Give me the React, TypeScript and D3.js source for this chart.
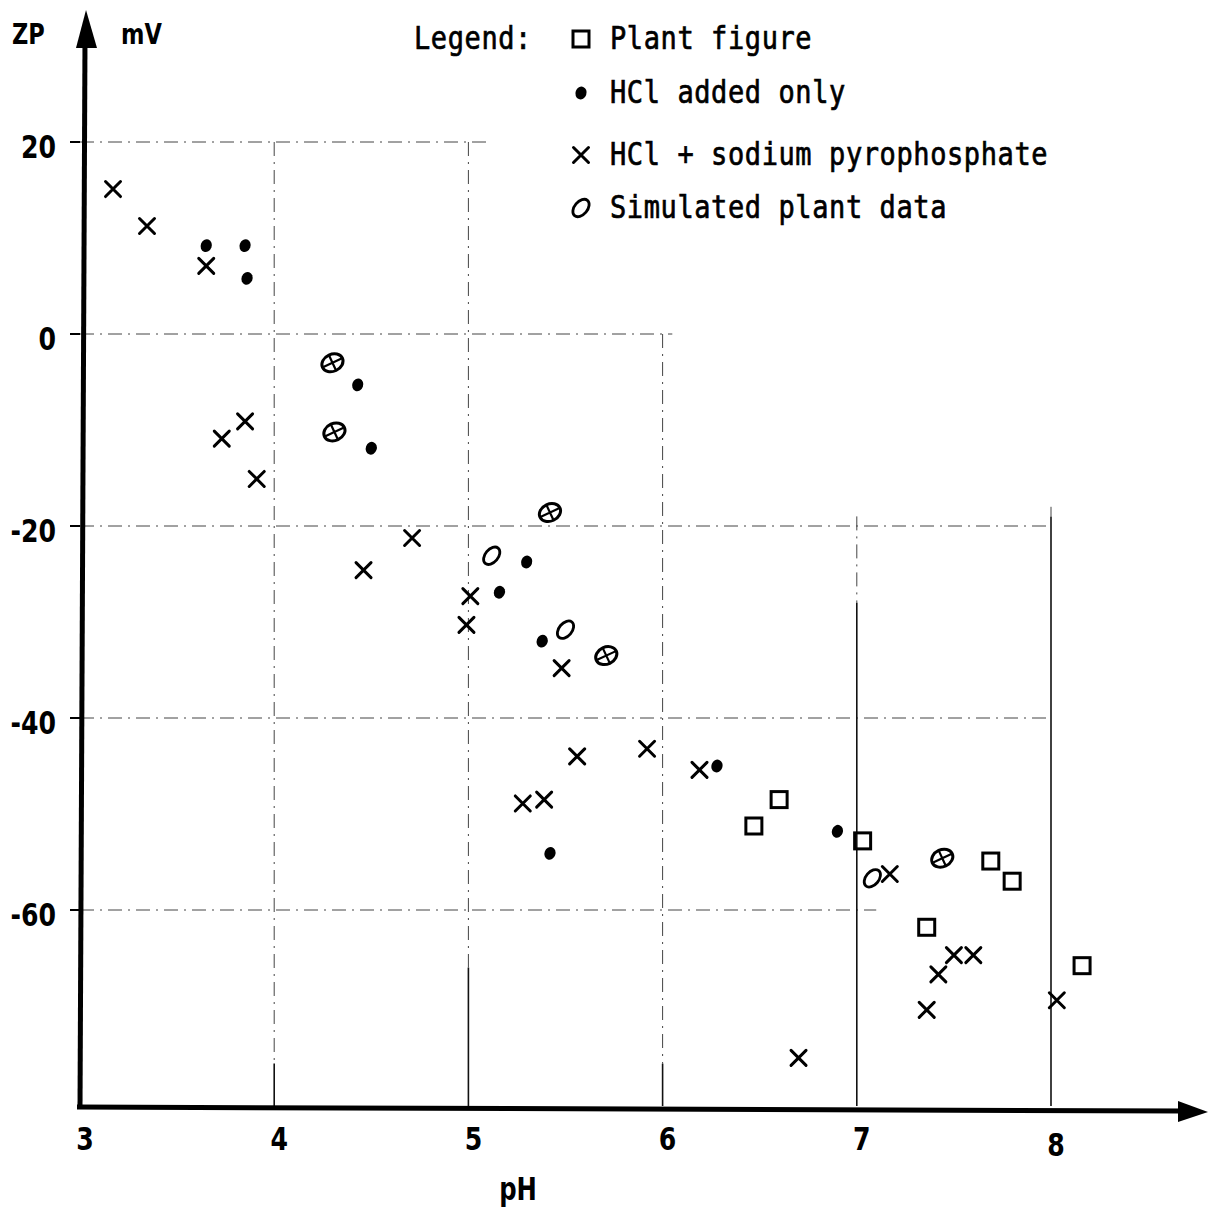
import React, { useEffect, useRef } from 'react';
import * as d3 from 'd3';

const width = 1212;
const height = 1208;

// values: pH vs zeta potential (mV)
const plantPH = [6.60, 6.47, 7.03, 7.69, 7.80, 7.36, 8.16];
const plantMV = [-48.5, -51.25, -52.8, -54.9, -57, -61.8, -65.8];

const hclPH = [3.65, 3.85, 3.86, 4.43, 4.50, 5.30, 5.16, 5.38, 5.42, 6.28, 6.90];
const hclMV = [9.2, 9.2, 5.8, -5.3, -11.9, -23.75, -26.9, -32.0, -54.1, -45.0, -51.8];

const pyroPH = [3.17, 3.345, 3.65, 3.73, 3.85, 3.91, 4.46, 4.71, 5.01, 4.99, 5.48, 5.56, 5.92, 5.28, 5.39, 6.19, 6.70, 7.17, 7.50, 7.60, 7.42, 7.36, 8.03];
const pyroMV = [15.1, 11.25, 7.1, -10.9, -9.1, -15.1, -24.6, -21.25, -27.3, -30.3, -34.8, -44.0, -43.2, -48.9, -48.5, -45.4, -75.4, -56.25, -64.7, -64.7, -66.7, -70.4, -69.4];

const simPH = [5.12, 5.50, 7.08];
const simMV = [-23.1, -30.8, -56.7];

// simulated points that were drawn with a cross through the O
const simCrossPH = [4.30, 4.31, 5.42, 5.71, 7.44];
const simCrossMV = [-3.0, -10.2, -18.6, -33.5, -54.6];

const xTicks = [3, 4, 5, 6, 7, 8];
const yTicks = [20, 0, -20, -40, -60];

// hand drawn grid: where each line stops
const hGridEnd = [5.1, 6.05, 8.0, 8.0, 7.1];
const vGridPH = [4, 5, 6, 7, 8];
const vGridTop = [20, 20, 0, -19, -18];
const vGridSolidFrom = [-76, -66, -76, -28, -19];

const legendLabels = ['Plant figure', 'HCl added only', 'HCl + sodium pyrophosphate', 'Simulated plant data'];

const mono = '"DejaVu Sans Mono", "Liberation Mono", monospace';
const sans = '"DejaVu Sans Condensed", "DejaVu Sans", sans-serif';

const drawSquare = (g) => {
    g.append('rect').attr('x', -8).attr('y', -8).attr('width', 16).attr('height', 16)
        .attr('fill', 'none').attr('stroke', '#000').attr('stroke-width', 3);
};
const drawDot = (g) => {
    g.append('ellipse').attr('rx', 5.5).attr('ry', 6.5).attr('transform', 'rotate(20)').attr('fill', '#000');
};
const drawCross = (g) => {
    g.append('path').attr('d', 'M-7.5,-7.5L7.5,7.5M7.5,-7.5L-7.5,7.5')
        .attr('stroke', '#000').attr('stroke-width', 3).attr('stroke-linecap', 'round');
};
const drawO = (g) => {
    g.append('ellipse').attr('rx', 6.5).attr('ry', 10).attr('transform', 'rotate(40)')
        .attr('fill', 'none').attr('stroke', '#000').attr('stroke-width', 2.8);
};
const drawCrossedO = (g) => {
    const r = g.append('g').attr('transform', 'rotate(-25)');
    r.append('ellipse').attr('rx', 11).attr('ry', 8.5)
        .attr('fill', 'none').attr('stroke', '#000').attr('stroke-width', 3);
    r.append('path').attr('d', 'M-10,0L10,0M0,-8L0,8')
        .attr('stroke', '#000').attr('stroke-width', 2.2);
};

const App = () => {
    const svgRef = useRef();

    useEffect(() => {
        const svg = d3.select(svgRef.current);
        svg.selectAll('*').remove();

        const x = d3.scaleLinear().domain([3, 8]).range([80, 1051]);
        const y = d3.scaleLinear().domain([-80, 20]).range([1102, 142]);

        // grid
        const grid = svg.append('g');
        yTicks.forEach((t, i) => {
            grid.append('line')
                .attr('x1', x(3)).attr('x2', x(hGridEnd[i]))
                .attr('y1', y(t)).attr('y2', y(t))
                .attr('stroke', '#444').attr('stroke-width', 1)
                .attr('stroke-dasharray', '14 6 2 6');
        });
        vGridPH.forEach((p, i) => {
            grid.append('line')
                .attr('x1', x(p)).attr('x2', x(p))
                .attr('y1', y(vGridTop[i])).attr('y2', y(vGridSolidFrom[i]))
                .attr('stroke', '#444').attr('stroke-width', 1)
                .attr('stroke-dasharray', '14 6 2 6');
            grid.append('line')
                .attr('x1', x(p)).attr('x2', x(p))
                .attr('y1', y(vGridSolidFrom[i])).attr('y2', y(-80) + 4)
                .attr('stroke', '#111').attr('stroke-width', 1.6);
        });

        // axes
        const axes = svg.append('g');
        const x0 = x(3);
        const yBase = y(-80) + 5;
        axes.append('line').attr('x1', x0).attr('y1', yBase + 2).attr('x2', x0 + 5).attr('y2', 40)
            .attr('stroke', '#000').attr('stroke-width', 5);
        axes.append('path').attr('d', `M${x0 + 6},10L${x0 + 17},48L${x0 - 4},48Z`).attr('fill', '#000');
        axes.append('line').attr('x1', x0 - 3).attr('y1', yBase).attr('x2', 1185).attr('y2', yBase + 4)
            .attr('stroke', '#000').attr('stroke-width', 5);
        axes.append('path').attr('d', `M1208,${yBase + 5}L1178,${yBase - 6}L1178,${yBase + 15}Z`).attr('fill', '#000');

        yTicks.forEach(t => {
            axes.append('line').attr('x1', x0 - 10).attr('x2', x0).attr('y1', y(t)).attr('y2', y(t))
                .attr('stroke', '#000').attr('stroke-width', 2);
            axes.append('text')
                .attr('transform', `translate(56,${y(t) + 16}) scale(1,1.15)`)
                .attr('text-anchor', 'end')
                .attr('font-family', sans).attr('font-size', 28).attr('font-weight', 600)
                .text(t);
        });
        xTicks.forEach(t => {
            axes.append('text')
                .attr('transform', `translate(${x(t) + 5},${y(-80) + 48 + (t === 8 ? 6 : 0)}) scale(1,1.15)`)
                .attr('text-anchor', 'middle')
                .attr('font-family', sans).attr('font-size', 28).attr('font-weight', 600)
                .text(t);
        });

        axes.append('text').attr('transform', 'translate(12,44) scale(1,1.15)')
            .attr('font-family', sans).attr('font-size', 25).attr('font-weight', 700).text('ZP');
        axes.append('text').attr('transform', 'translate(121,44) scale(1,1.15)')
            .attr('font-family', sans).attr('font-size', 25).attr('font-weight', 700).text('mV');
        axes.append('text').attr('transform', 'translate(518,1200) scale(1,1.15)').attr('text-anchor', 'middle')
            .attr('font-family', sans).attr('font-size', 27).attr('font-weight', 600).text('pH');

        // points
        const plot = (xs, ys, draw) => {
            xs.forEach((p, i) => {
                const g = svg.append('g').attr('transform', `translate(${x(p)},${y(ys[i])})`);
                draw(g);
            });
        };
        plot(plantPH, plantMV, drawSquare);
        plot(hclPH, hclMV, drawDot);
        plot(pyroPH, pyroMV, drawCross);
        plot(simPH, simMV, drawO);
        plot(simCrossPH, simCrossMV, drawCrossedO);

        // legend
        const legend = svg.append('g');
        const legendText = (tx, ty, s) => legend.append('text')
            .attr('transform', `translate(${tx},${ty}) scale(1,1.2)`)
            .attr('font-family', mono).attr('font-size', 27).attr('letter-spacing', 0.6)
            .attr('stroke', '#000').attr('stroke-width', 0.6)
            .text(s);
        legendText(414, 49, 'Legend:');
        const rowY = [49, 103, 165, 218];
        const drawers = [drawSquare, drawDot, drawCross, drawO];
        legendLabels.forEach((label, i) => {
            const g = legend.append('g').attr('transform', `translate(581,${rowY[i] - 10})`);
            drawers[i](g);
            legendText(610, rowY[i], label);
        });
    }, []);

    return (
        <svg ref={svgRef} width={width} height={height}
            style={{ position: 'absolute', left: 0, top: 0, background: '#fff' }} />
    );
};

export default App;
